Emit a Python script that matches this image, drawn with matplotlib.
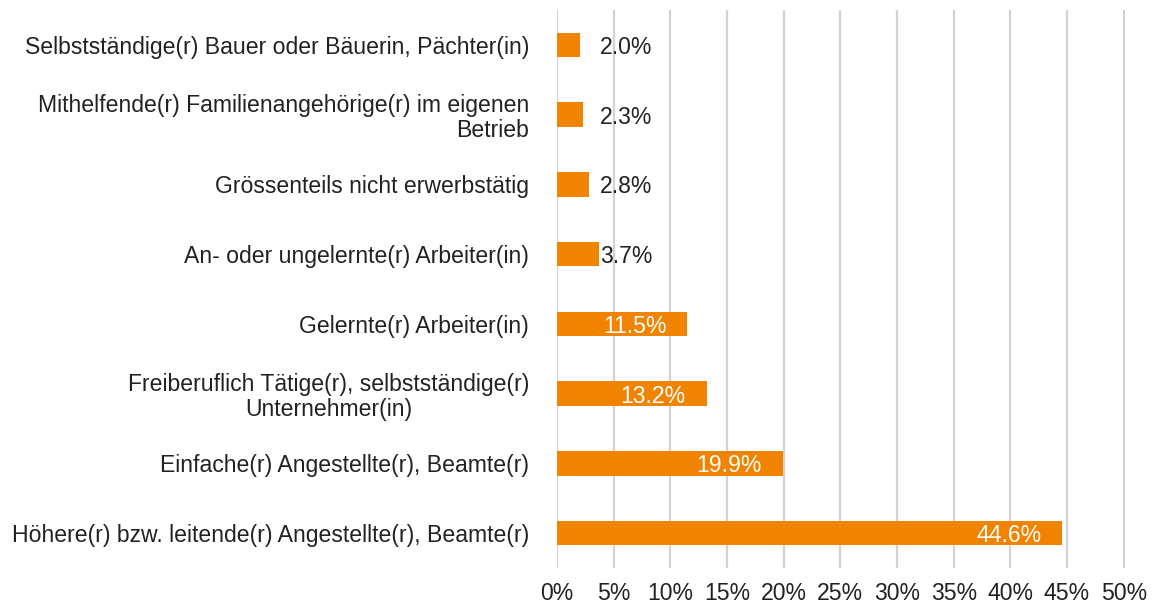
import matplotlib.pyplot as plt

categories = [
    "Selbstständige(r) Bauer oder Bäuerin, Pächter(in)",
    "Mithelfende(r) Familienangehörige(r) im eigenen\nBetrieb",
    "Grössenteils nicht erwerbstätig",
    "An- oder ungelernte(r) Arbeiter(in)",
    "Gelernte(r) Arbeiter(in)",
    "Freiberuflich Tätige(r), selbstständige(r)\nUnternehmer(in)",
    "Einfache(r) Angestellte(r), Beamte(r)",
    "Höhere(r) bzw. leitende(r) Angestellte(r), Beamte(r)",
]
values = [2.0, 2.3, 2.8, 3.7, 11.5, 13.2, 19.9, 44.6]
label_align = ["right", "right", "right", "right", "right", "center", "right", "right"]
xticks = [0, 5, 10, 15, 20, 25, 30, 35, 40, 45, 50]

plt.rcParams["font.family"] = ["Liberation Sans", "DejaVu Sans"]

orange = "#F08300"
text_col = "#222222"
fs = 16.6

fig = plt.figure(figsize=(11.52, 6.06), dpi=100)
ax = fig.add_axes([0.4835, 0.0627, 0.4939, 0.9208])

ypos = list(range(len(values)))
ax.barh(ypos, values, height=0.35, color=orange, zorder=3)
ax.set_ylim(len(values) - 0.5, -0.5)
ax.set_xlim(0, 50.2)

for y, v in zip(ypos, values):
    txt = f"{v:.1f}%"
    if v < 10:
        ax.text(max(v, 3.75) + 0.05, y, txt, ha="left", va="center_baseline",
                fontsize=fs, color=text_col, zorder=4)
    else:
        ax.annotate(txt, (v, y), xytext=(-15, 0), textcoords="offset points",
                    ha="right", va="center_baseline", fontsize=fs,
                    color="white", zorder=4)

ax.set_yticks(ypos)
ax.set_yticklabels(categories, fontsize=fs, color=text_col, linespacing=1.1)
for lab, al in zip(ax.get_yticklabels(), label_align):
    lab.set_multialignment(al)
    lab.set_va("center_baseline")
ax.set_xticks(xticks)
ax.set_xticklabels([f"{t}%" for t in xticks], fontsize=fs, color=text_col)
ax.tick_params(axis="both", length=0)
ax.tick_params(axis="x", pad=10)
ax.tick_params(axis="y", pad=20)

ax.grid(axis="x", color="#D9D1D1", linewidth=1.6, zorder=0)
for s in ax.spines.values():
    s.set_visible(False)

fig.savefig("out.png", dpi=100)
